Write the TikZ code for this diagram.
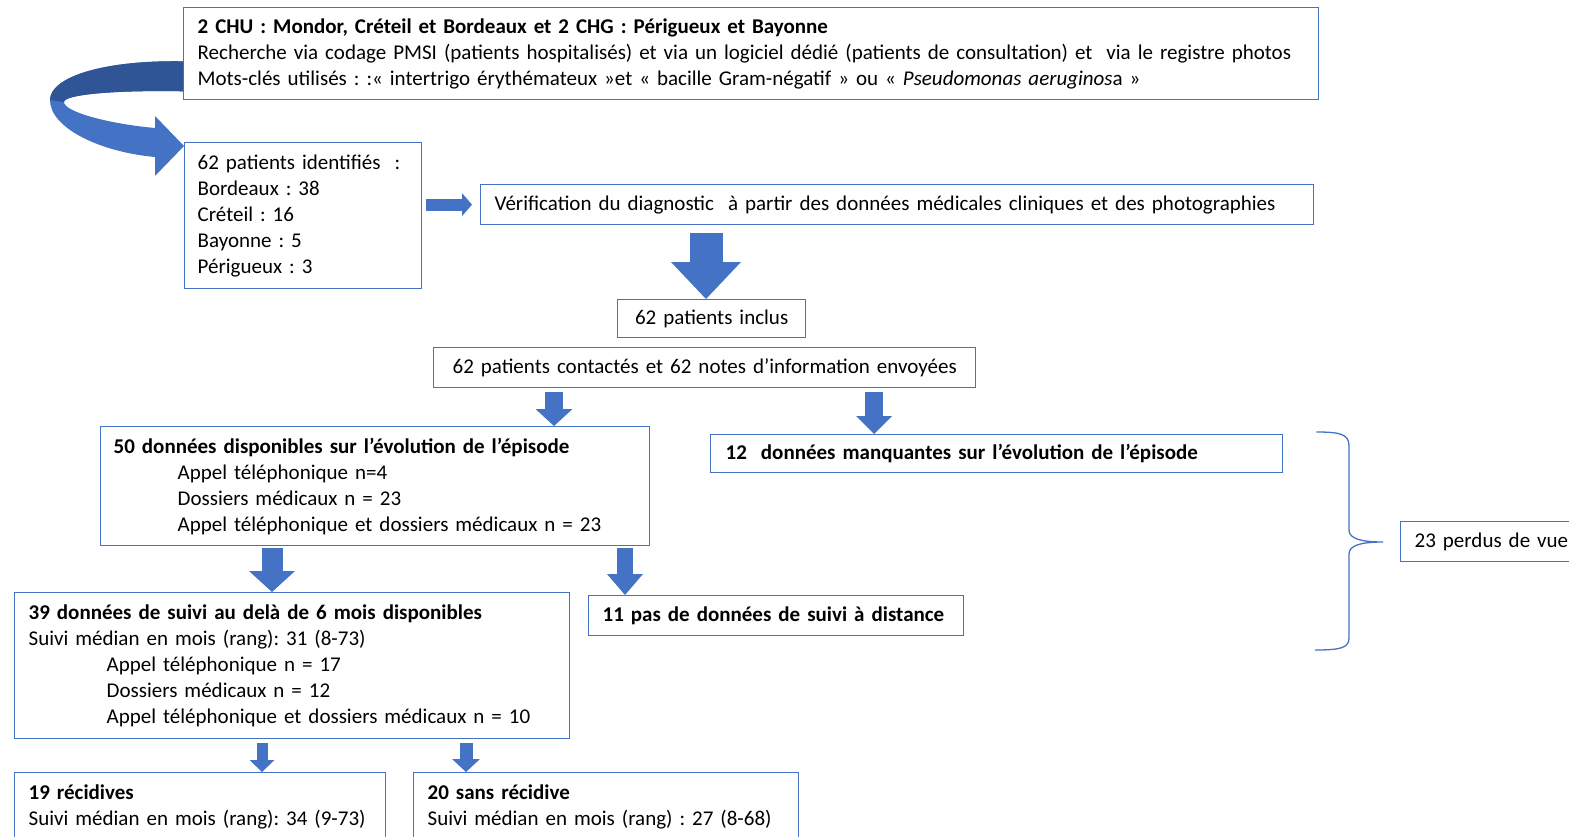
\documentclass[tikz,border=0pt]{standalone}
\usepackage{fontspec}
\setmainfont{Carlito}
\frenchspacing
\usetikzlibrary{arrows.meta,calc}
\definecolor{boxblue}{HTML}{4472C4}
\definecolor{arrowblue}{HTML}{4472C4}
\definecolor{backblue}{HTML}{2F5597}
\tikzset{
  box/.style={draw=boxblue, line width=1.3pt, anchor=north west, align=left,
    inner xsep=14pt, inner ysep=0pt, font=\fontsize{21}{26}\selectfont},
  cbox/.style={box, align=center},
  fat/.style n args={3}{draw=arrowblue, line width=#1pt,
    -{Triangle[width=#2pt,length=#3pt,line width=0pt]}}
}
\begin{document}
\begin{tikzpicture}[x=1pt,y=-1pt]
    \useasboundingbox (0,0) rectangle (1569,836);
    \clip (0,0) rectangle (1569,836);
    % boxes
    \node[box, text width=1107pt, minimum height=92pt] (top) at (183,7)
      {\textbf{2 CHU : Mondor, Créteil et Bordeaux et 2 CHG : Périgueux et Bayonne}\\
       Recherche via codage PMSI (patients hospitalisés) et via un logiciel dédié (patients de consultation) et\ \ via le registre photos\\
       Mots-clés utilisés : :« intertrigo érythémateux »et « bacille Gram-négatif » ou « \textit{Pseudomonas aeruginos}a »};
    \node[box, inner xsep=13pt, text width=211pt, minimum height=146pt] (ident) at (184,142)
      {62 patients identifiés\ \ :\\ Bordeaux : 38\\ Créteil : 16\\ Bayonne : 5\\ Périgueux : 3};
    \node[box, text width=805pt, minimum height=40pt] (verif) at (480,184)
      {Vérification du diagnostic\ \ à partir des données médicales cliniques et des photographies};
    \node[cbox, text width=160pt, minimum height=38pt] (inclus) at (617,299) {62 patients inclus};
    \node[cbox, text width=514pt, minimum height=40pt] (contact) at (433,347)
      {62 patients contactés et 62 notes d’information envoyées};
    \node[box, inner xsep=13pt, text width=523pt, minimum height=119pt] (dispo) at (100,426)
      {\textbf{50 données disponibles sur l’évolution de l’épisode}\\
       \hspace*{64pt}Appel téléphonique n=4\\
       \hspace*{64pt}Dossiers médicaux n = 23\\
       \hspace*{64pt}Appel téléphonique et dossiers médicaux n = 23};
    \node[box, inner xsep=15pt, text width=542pt, minimum height=38pt] (manq) at (710,434)
      {\textbf{12\ \ données manquantes sur l’évolution de l’épisode}};
    \node[box, text width=182pt, minimum height=40pt] (perdus) at (1400,521) {23 perdus de vue};
    \node[box, text width=527pt, minimum height=146pt] (suivi) at (14,592)
      {\textbf{39 données de suivi au delà de 6 mois disponibles}\\
       Suivi médian en mois (rang): 31 (8-73)\\
       \hspace*{78pt}Appel téléphonique n = 17\\
       \hspace*{78pt}Dossiers médicaux n = 12\\
       \hspace*{78pt}Appel téléphonique et dossiers médicaux n = 10};
    \node[box, text width=347pt, minimum height=40pt] (pas) at (588,595)
      {\textbf{11 pas de données de suivi à distance}};
    \node[box, text width=343pt, minimum height=68pt] (recid) at (14,772)
      {\textbf{19 récidives}\\ Suivi médian en mois (rang): 34 (9-73)};
    \node[box, text width=357pt, minimum height=68pt] (sans) at (413,772)
      {\textbf{20 sans récidive}\\ Suivi médian en mois (rang) : 27 (8-68)};
    % curved arrow from the search box to the identified patients
    \coordinate (c1) at ($(top.south west)+(0,-39)$);
    \coordinate (c2) at ($(top.south west)+(0,-9)$);
    \coordinate (c3) at ($(ident.north west)+(0,4)$);
    \fill[arrowblue] (c1) .. controls (100,60) and (50,78) .. (50,100)
      .. controls (50,128) and (100,152) .. (155,157) -- (155,176) -- (c3)
      -- (155,116) -- (155,128) .. controls (110,124) and (64,112) .. (64,102)
      .. controls (64,95) and (110,90) .. (c2) -- cycle;
    \fill[backblue] (c1) .. controls (100,60) and (50,78) .. (50,100)
      -- (64,102) .. controls (64,95) and (110,90) .. (c2) -- cycle;
    % block arrows
    \draw[fat={12}{23}{10}] ($(ident.east |- verif.west)+(4,0)$) -- ($(verif.west)+(-8,0)$);
    \path ($(verif.south west)+(226,8)$) coordinate (a1)
          ($(contact.south west)+(121,4)$) coordinate (a2)
          ($(contact.south west)+(441,4)$) coordinate (a3)
          ($(dispo.south west)+(172,2)$) coordinate (a4)
          ($(dispo.south west)+(525,2)$) coordinate (a5)
          ($(suivi.south west)+(248,4)$) coordinate (a6)
          ($(suivi.south west)+(452,4)$) coordinate (a7);
    \draw[fat={33}{70}{37}] (a1) -- (a1 |- inclus.north);
    \draw[fat={18}{37}{17}] (a2) -- (a2 |- dispo.north);
    \draw[fat={18}{36}{18}] (a3) -- (a3 |- manq.north);
    \draw[fat={21}{46}{21}] (a4) -- (a4 |- suivi.north);
    \draw[fat={16}{36}{21}] (a5) -- (a5 |- pas.north);
    \draw[fat={11}{25}{12}] (a6) -- (a6 |- recid.north);
    \draw[fat={13}{28}{13}] (a7) -- (a7 |- sans.north);
    % brace towards the lost to follow-up
    \draw[boxblue, line width=1.3pt] ($(manq.north east)+(33,-2)$)
      .. controls (1340,432) and (1349,434) .. (1349,446) -- (1349,530)
      .. controls (1349,539) and (1362,542) .. (1383,542)
      .. controls (1362,542) and (1349,545) .. (1349,554) -- (1349,638)
      .. controls (1349,648) and (1340,650) .. (1315,650);
\end{tikzpicture}
\end{document}
